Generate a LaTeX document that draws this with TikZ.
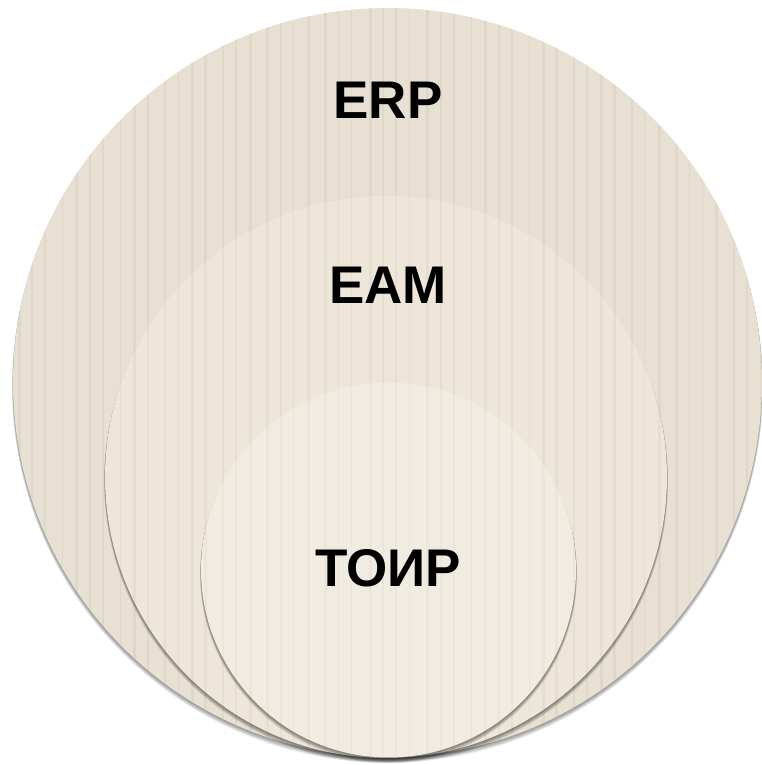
\documentclass[tikz,border=0pt]{standalone}
\usepackage{fontspec}
\setmainfont{Liberation Sans}
\definecolor{cOuter}{HTML}{E8E1D3}
\definecolor{cMid}{HTML}{EDE6D9}
\definecolor{cInner}{HTML}{F1ECE2}
\definecolor{cStripe}{HTML}{D6CDBC}
\newcommand{\stripesin}[3]{%
  \begin{scope}
    \clip (#1) circle (#2);
    \foreach \i in {0,...,52}{
      \pgfmathsetmacro{\xx}{\i*14.6+mod(\i*5,7)*0.6}
      \pgfmathsetmacro{\ww}{1.2+mod(\i*7,4)*0.6}
      \fill[cStripe, opacity=#3] (\xx,0) rectangle ++(\ww,765);
    }
  \end{scope}}
\begin{document}
\begin{tikzpicture}[x=1pt,y=1pt,
  lbl/.style={font=\bfseries\fontsize{53}{53}\selectfont, text=black},
  disc/.style={circle, inner sep=0pt, outer sep=0pt, draw=none}
]
\useasboundingbox (0,0) rectangle (761,765);
\fill[white] (0,0) rectangle (761,765);
% outer disc
\foreach \k in {1,...,8}{
  \fill[black, opacity=0.06] (387.5,{382.5-\k*0.6}) circle ({374.5+0.12*\k});
}
\node[disc, minimum size=749pt, fill=cOuter] (erpc) at (387.5,382.5) {};
\stripesin{erpc.center}{374.5}{0.45}
% middle disc
\foreach \k in {1,...,8}{
  \fill[black, opacity=0.065] (386,{288-\k*0.55}) circle ({281+0.12*\k});
}
\node[disc, minimum size=562pt, fill=cMid] (eamc) at (386,288) {};
\stripesin{eamc.center}{281}{0.3}
% inner disc
\foreach \k in {1,...,8}{
  \fill[black, opacity=0.065] (388.5,{195-\k*0.55}) circle ({187.5+0.12*\k});
}
\node[disc, minimum size=375pt, fill=cInner] (toirc) at (388.5,195) {};
\stripesin{toirc.center}{187.5}{0.2}
\node[lbl] (erp) at (388,665) {ERP};
\node[lbl] (eam) at (388,480) {EAM};
\node[lbl] (toir) at (388,197) {ТОИР};
\end{tikzpicture}
\end{document}
